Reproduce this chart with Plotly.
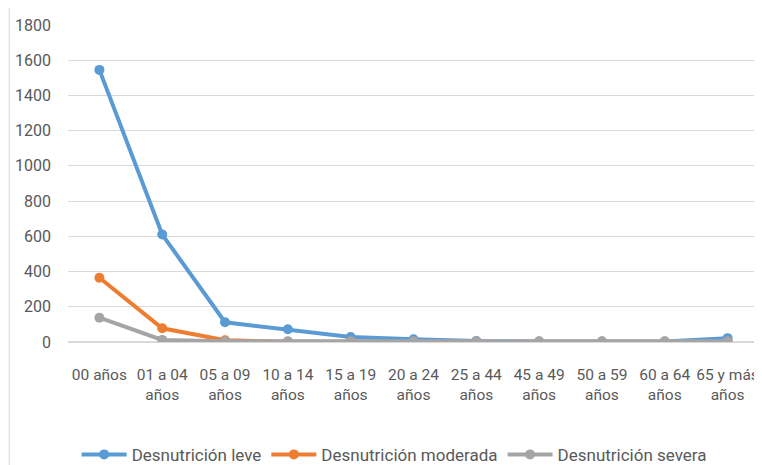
import plotly.graph_objects as go

categories = ["00 años", "01 a 04<br>años", "05 a 09<br>años", "10 a 14<br>años", "15 a 19<br>años",
              "20 a 24<br>años", "25 a 44<br>años", "45 a 49<br>años", "50 a 59<br>años",
              "60 a 64<br>años", "65 y más<br>años"]
leve = [1545, 610, 112, 72, 28, 15, 5, 3, 3, 3, 22]
moderada = [365, 78, 10, 2, 1, 1, 1, 0, 0, 0, 0]
severa = [138, 12, 4, 4, 4, 4, 4, 4, 4, 4, 4]

series = [("Desnutrición leve", leve, "#5B9BD5"),
          ("Desnutrición moderada", moderada, "#ED7D31"),
          ("Desnutrición severa", severa, "#A5A5A5")]

font_family = "Roboto, sans-serif"

fig = go.Figure()
for name, vals, col in series:
    fig.add_trace(go.Scatter(x=categories, y=vals, name=name, mode="lines+markers",
                             line=dict(color=col, width=4),
                             marker=dict(color=col, size=10)))

fig.update_layout(
    width=754, height=457,
    margin=dict(l=60, r=3, t=17, b=123, autoexpand=False),
    paper_bgcolor="white", plot_bgcolor="white",
    font=dict(family=font_family, size=16, color="#595959"),
    showlegend=True,
    legend=dict(orientation="h", x=0.472, xanchor="center", y=-0.356, yanchor="middle",
                font=dict(size=17, color="#595959"), itemwidth=45, tracegroupgap=0),
    xaxis=dict(showgrid=False, showline=False, zeroline=False, ticks="",
               tickangle=0, ticklabelstandoff=21, range=[-0.5, 10.5],
               tickfont=dict(size=15.5)),
    yaxis=dict(range=[0, 1800], dtick=200, showgrid=True, gridcolor="#D9D9D9", gridwidth=1,
               zeroline=True, zerolinecolor="#D9D9D9", showline=False, ticks="",
               ticklabelstandoff=16, tickfont=dict(size=16)),
)
fig.add_shape(type="line", xref="paper", yref="paper", x0=-0.085, x1=-0.085, y0=-0.5, y1=1.1,
              line=dict(color="#D9D9D9", width=1))
fig.write_html("out.html")
